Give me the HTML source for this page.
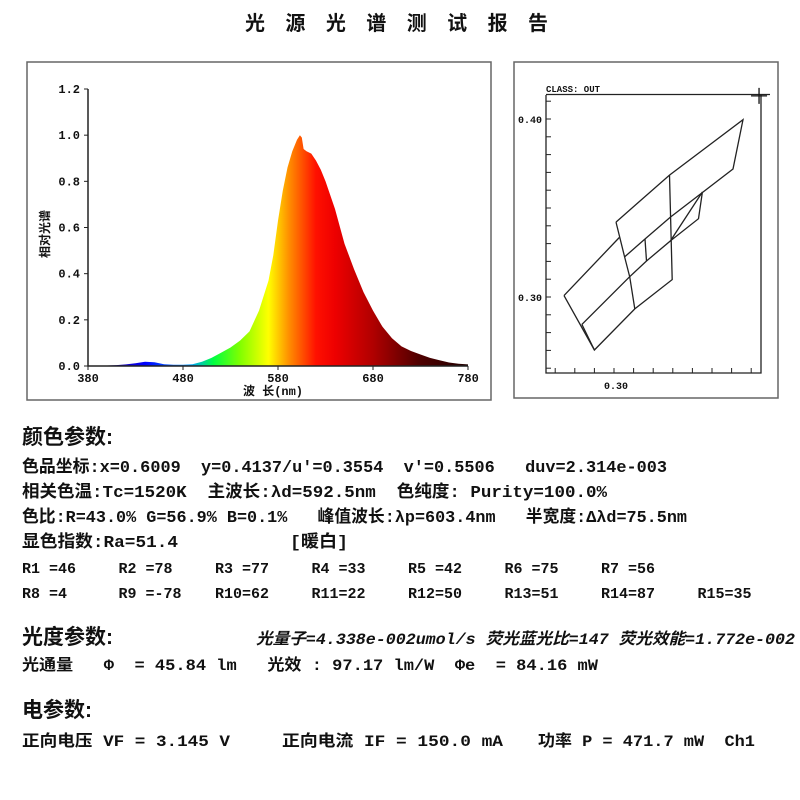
<!DOCTYPE html>
<html><head><meta charset="utf-8">
<style>
html,body{margin:0;padding:0;background:#fff;}
svg{display:block;}
.m{font-family:"Liberation Mono","Noto Sans CJK SC",monospace;font-weight:bold;fill:#111;}
.c{font-family:"Liberation Sans","Noto Sans CJK SC",sans-serif;font-weight:bold;fill:#111;}
</style></head>
<body>
<svg id="page" width="800" height="800" viewBox="0 0 800 800" xmlns="http://www.w3.org/2000/svg">
<defs>
<linearGradient id="specGrad" gradientUnits="userSpaceOnUse" x1="88" y1="0" x2="468" y2="0">
<stop offset="0" stop-color="#300050"/>
<stop offset="0.15" stop-color="#0000ff"/>
<stop offset="0.27" stop-color="#00a0ff"/>
<stop offset="0.33" stop-color="#00ff40"/>
<stop offset="0.4" stop-color="#80ff00"/>
<stop offset="0.475" stop-color="#ffff00"/>
<stop offset="0.53" stop-color="#ff8c00"/>
<stop offset="0.6" stop-color="#ff1000"/>
<stop offset="0.65" stop-color="#ee0000"/>
<stop offset="0.75" stop-color="#b00000"/>
<stop offset="0.87" stop-color="#500000"/>
<stop offset="1" stop-color="#200000"/>
</linearGradient>
</defs>
<text class="c" x="245" y="30" font-size="20" textLength="303" lengthAdjust="spacing">光源光谱测试报告</text>

<rect x="27" y="62" width="464" height="338" fill="none" stroke="#666" stroke-width="1.5"/>
<g id="spec"></g>

<rect x="514" y="62" width="264" height="336" fill="none" stroke="#666" stroke-width="1.5"/>
<g id="cie"></g>

<text class="c" x="22" y="444" font-size="21">颜色参数:</text>
<text class="m" x="22" y="472" font-size="17" textLength="645" lengthAdjust="spacingAndGlyphs" xml:space="preserve">色品坐标:x=0.6009  y=0.4137/u'=0.3554  v'=0.5506   duv=2.314e-003</text>
<text class="m" x="22" y="497" font-size="17" textLength="585" lengthAdjust="spacingAndGlyphs" xml:space="preserve">相关色温:Tc=1520K  主波长:λd=592.5nm  色纯度: Purity=100.0%</text>
<text class="m" x="22" y="522" font-size="17" textLength="665" lengthAdjust="spacingAndGlyphs" xml:space="preserve">色比:R=43.0% G=56.9% B=0.1%   峰值波长:λp=603.4nm   半宽度:Δλd=75.5nm</text>
<text class="m" x="22" y="547" font-size="17" textLength="156" lengthAdjust="spacingAndGlyphs">显色指数:Ra=51.4</text>
<text class="m" x="290" y="547" font-size="17" textLength="58" lengthAdjust="spacingAndGlyphs">[暖白]</text>
<g id="rvals"></g>

<text class="c" x="22" y="644" font-size="21">光度参数:</text>
<text class="m" x="256" y="644" font-size="16" font-style="italic" textLength="539" lengthAdjust="spacingAndGlyphs">光量子=4.338e-002umol/s 荧光蓝光比=147 荧光效能=1.772e-002</text>
<text class="m" x="22" y="670" font-size="16" textLength="576" lengthAdjust="spacingAndGlyphs" xml:space="preserve">光通量   Φ  = 45.84 lm   光效 : 97.17 lm/W  Φe  = 84.16 mW</text>

<text class="c" x="22" y="717" font-size="21">电参数:</text>
<text class="m" x="22" y="746" font-size="16" textLength="208" lengthAdjust="spacingAndGlyphs">正向电压 VF = 3.145 V</text>
<text class="m" x="282" y="746" font-size="16" textLength="221" lengthAdjust="spacingAndGlyphs">正向电流 IF = 150.0 mA</text>
<text class="m" x="538" y="746" font-size="16" textLength="217" lengthAdjust="spacingAndGlyphs" xml:space="preserve">功率 P = 471.7 mW  Ch1</text>
</svg>
<script>
// ---- spectrum data ----
const wavelengths=[380,390,400,410,420,430,440,450,460,470,480,490,500,510,520,530,540,550,560,570,575,580,585,590,595,600,603,605,607,610,615,620,625,630,640,650,660,670,680,690,700,710,720,730,740,750,760,770,780];
const intensity=[0,0.001,0.002,0.004,0.007,0.012,0.018,0.016,0.008,0.005,0.005,0.008,0.018,0.035,0.057,0.08,0.11,0.15,0.24,0.37,0.48,0.63,0.76,0.86,0.93,0.98,1.0,0.99,0.94,0.93,0.92,0.89,0.85,0.80,0.68,0.53,0.42,0.32,0.24,0.17,0.12,0.085,0.065,0.05,0.035,0.025,0.015,0.01,0.007];
const xTicks=[380,480,580,680,780];
const yTicks=[0,0.2,0.4,0.6,0.8,1.0,1.2];
// ---- CIE data ----
const cieVerts={A:[0.2745,0.3008],B:[0.2900,0.2702],C:[0.3106,0.2933],D:[0.3297,0.3098],E:[0.3283,0.3685],F:[0.3658,0.3996],G:[0.3607,0.3719],H:[0.3451,0.3590],I:[0.3431,0.3440],J:[0.3010,0.3421],K:[0.2836,0.2846],L:[0.3027,0.3334],M:[0.3054,0.3225],N:[0.3080,0.3114],O:[0.3158,0.3326],P:[0.3166,0.3202],Q:[0.3288,0.3315],R:[0.3288,0.3449]};
const ciePaths=[["J","E","F","G","R","O","M"],["J","M","N","C"],["A","L"],["A","B","C","D","E"],["K","N","P","Q","H","I","Q"],["O","P"],["B","K"]];
const measuredPoint=[0.374,0.413];
const cieXTicks=[0.27,0.28,0.29,0.30,0.31,0.32,0.33,0.34,0.35,0.36,0.37];
const cieYTicks=[0.26,0.27,0.28,0.29,0.30,0.31,0.32,0.33,0.34,0.35,0.36,0.37,0.38,0.39,0.40,0.41];
const cieXLabels=[0.30];
const cieYLabels=[0.30,0.40];
const rNames=["R1 =46","R2 =78","R3 =77","R4 =33","R5 =42","R6 =75","R7 =56","R8 =4","R9 =-78","R10=62","R11=22","R12=50","R13=51","R14=87","R15=35"];

const NS="http://www.w3.org/2000/svg";
function mk(tag,attrs,parent){const e=document.createElementNS(NS,tag);for(const k in attrs)e.setAttribute(k,attrs[k]);parent.appendChild(e);return e;}

// spectrum axes
const sx=w=>88+(w-380)/(780-380)*380;
const sy=v=>366-v/1.2*277;
const spec=document.getElementById('spec');
let d="M"+sx(wavelengths[0])+","+sy(0);
wavelengths.forEach((w,i)=>{d+=" L"+sx(w).toFixed(1)+","+sy(intensity[i]).toFixed(1);});
d+=" L"+sx(wavelengths[wavelengths.length-1])+","+sy(0)+" Z";
const area=mk('path',{d:d,fill:'url(#specGrad)'},spec);


const ax=mk('path',{d:`M${sx(380)},${sy(1.2)} L${sx(380)},${sy(0)} L${sx(780)},${sy(0)}`,fill:'none',stroke:'#222','stroke-width':1.5},spec);


yTicks.forEach(v=>{
  mk('line',{x1:sx(380)-4,x2:sx(380),y1:sy(v),y2:sy(v),stroke:'#222'},spec);
  const t=mk('text',{x:80,y:sy(v)+4,'text-anchor':'end','font-size':12,class:'m'},spec);
  
  
  t.textContent=v.toFixed(1);
});
xTicks.forEach(w=>{
  mk('line',{x1:sx(w),x2:sx(w),y1:sy(0),y2:sy(0)+4,stroke:'#222'},spec);
  const t=mk('text',{x:sx(w),y:382,'text-anchor':'middle','font-size':12,class:'m'},spec);
  
  
  t.textContent=w;
});
const xt=mk('text',{x:243,y:395,'font-size':12,class:'m'},spec);


xt.textContent='波 长(nm)';
const yt=mk('text',{x:0,y:0,'font-size':12,class:'c',transform:'translate(49,258) rotate(-90)'},spec);


yt.textContent='相对光谱';

// CIE axes
const cx=v=>614+(v-0.30)*1960;
const cy=v=>297-(v-0.30)*1780;
const cie=document.getElementById('cie');
const frame=mk('path',{d:'M546,95 L546,373 L761,373 L761,95',fill:'none',stroke:'#222','stroke-width':1.3},cie);


mk('line',{x1:546,x2:770,y1:94.5,y2:94.5,stroke:'#222','stroke-width':1.3},cie);
cieYTicks.forEach(v=>mk('line',{x1:546,x2:551,y1:cy(v),y2:cy(v),stroke:'#222'},cie));
cieXTicks.forEach(v=>mk('line',{x1:cx(v),x2:cx(v),y1:373,y2:368,stroke:'#222'},cie));
cieYLabels.forEach(v=>{const t=mk('text',{x:542,y:cy(v)+4,'text-anchor':'end','font-size':10,class:'m'},cie);
  
  
  t.textContent=v.toFixed(2);});
cieXLabels.forEach(v=>{const t=mk('text',{x:cx(v)+2,y:389,'text-anchor':'middle','font-size':10,class:'m'},cie);
  
  
  t.textContent=v.toFixed(2);});
const cl=mk('text',{x:546,y:92,'font-size':9,class:'m'},cie);


cl.textContent='CLASS: OUT';
ciePaths.forEach(p=>{
  const dd=p.map((k,i)=>(i?'L':'M')+cx(cieVerts[k][0]).toFixed(1)+','+cy(cieVerts[k][1]).toFixed(1)).join(' ');
  const e=mk('path',{d:dd,fill:'none',stroke:'#222','stroke-width':1.3},cie);
  
  
});
const mpx=cx(measuredPoint[0]),mpy=cy(measuredPoint[1]);
const mp=mk('path',{d:`M${mpx-8},${mpy} L${mpx+8},${mpy} M${mpx},${mpy-8} L${mpx},${mpy+8}`,stroke:'#111','stroke-width':1.3},cie);



// R values
const rv=document.getElementById('rvals');
rNames.forEach((s,i)=>{
  const row=i<7?0:1, col=i<7?i:i-7;
  const t=mk('text',{x:22+col*96.5,y:row?598:573,'font-size':15,class:'m','xml:space':'preserve'},rv);
  
  
  t.textContent=s;
});
</script>
</body></html>
